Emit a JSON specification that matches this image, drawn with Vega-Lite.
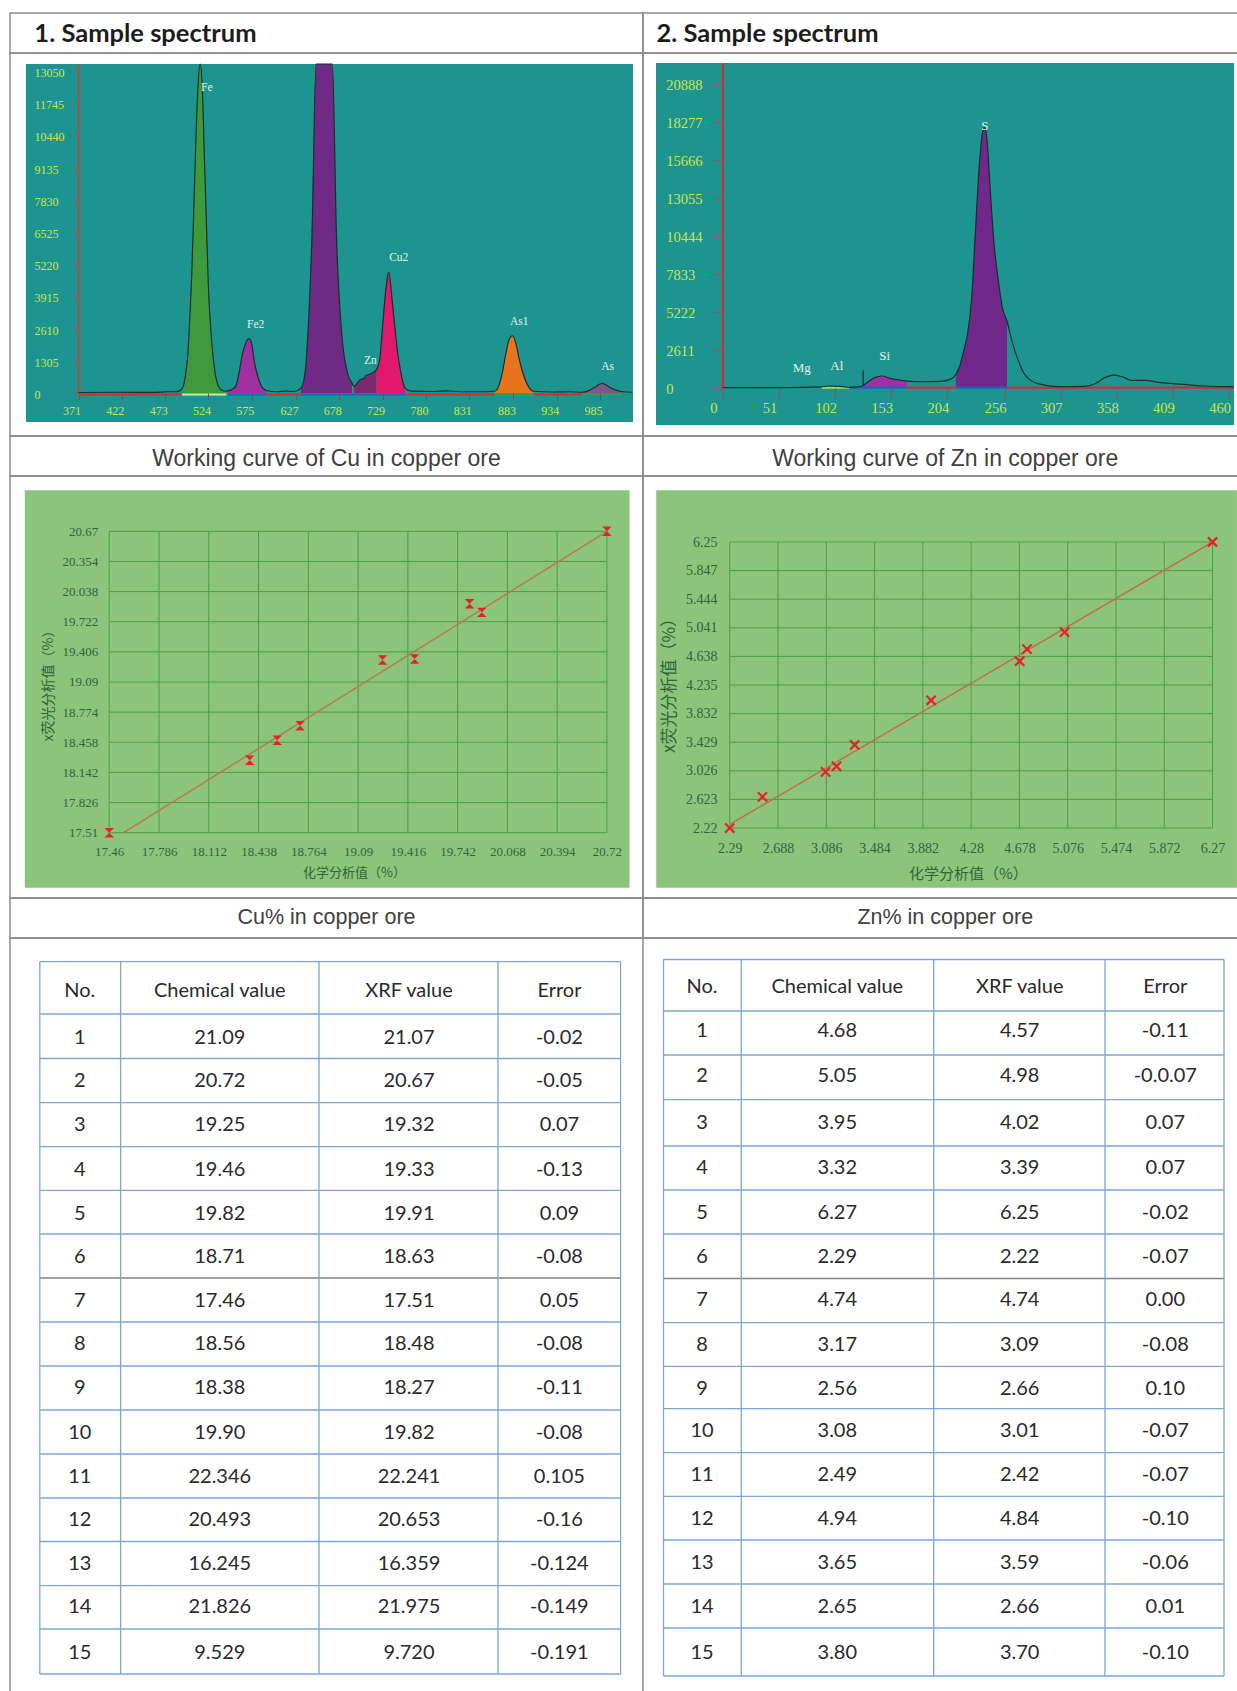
{
"$schema":"https://vega.github.io/schema/vega-lite/v6.json",
"background":"white",
"padding":{"left":9,"top":12,"right":0,"bottom":0},
"config":{"view":{"stroke":null},"axis":{"labelOverlap":false,"labelFlush":false,"labelBound":false,"grid":false,"domain":false}},
"datasets":{
"spec1":[
{"ch":371,"n":20},{"ch":420,"n":30},{"ch":460,"n":25},{"ch":475,"n":50},{"ch":486,"n":50},
{"ch":493.5,"n":200,"peak":"Fe"},{"ch":497,"n":740,"peak":"Fe"},{"ch":500,"n":1690,"peak":"Fe"},{"ch":502,"n":3040,"peak":"Fe"},{"ch":504.6,"n":5070,"peak":"Fe"},{"ch":507,"n":7770,"peak":"Fe"},{"ch":509.4,"n":10470,"peak":"Fe"},{"ch":511.8,"n":12500,"peak":"Fe"},{"ch":514.2,"n":13334,"peak":"Fe"},{"ch":516.6,"n":12500,"peak":"Fe"},{"ch":519,"n":9800,"peak":"Fe"},{"ch":521.4,"n":7100,"peak":"Fe"},{"ch":523.8,"n":4400,"peak":"Fe"},{"ch":527.2,"n":2360,"peak":"Fe"},{"ch":530.5,"n":1150,"peak":"Fe"},{"ch":534.4,"n":400,"peak":"Fe"},{"ch":539,"n":135,"peak":"Fe"},{"ch":545,"n":70,"peak":"Fe"},
{"ch":546.4,"n":90,"peak":"Fe2"},{"ch":551,"n":135,"peak":"Fe2"},{"ch":556,"n":270,"peak":"Fe2"},{"ch":560,"n":810,"peak":"Fe2"},{"ch":563,"n":1400,"peak":"Fe2"},{"ch":568,"n":2030,"peak":"Fe2"},{"ch":571.4,"n":2200,"peak":"Fe2"},{"ch":574.7,"n":2030,"peak":"Fe2"},{"ch":577.6,"n":1350,"peak":"Fe2"},{"ch":581.5,"n":740,"peak":"Fe2"},{"ch":586,"n":300,"peak":"Fe2"},{"ch":592,"n":100,"peak":"Fe2"},
{"ch":605,"n":50},{"ch":615,"n":80},{"ch":625,"n":60},
{"ch":632.9,"n":200,"peak":"Cu"},{"ch":637.7,"n":810,"peak":"Cu"},{"ch":641,"n":2360,"peak":"Cu"},{"ch":645.9,"n":6400,"peak":"Cu"},{"ch":650.7,"n":13334,"peak":"Cu"},{"ch":660.3,"n":13334,"peak":"Cu"},{"ch":669.9,"n":13334,"peak":"Cu"},{"ch":674.7,"n":6400,"peak":"Cu"},{"ch":681,"n":2360,"peak":"Cu"},{"ch":687.2,"n":880,"peak":"Cu"},{"ch":693,"n":400,"peak":"Cu"},
{"ch":695.4,"n":270,"peak":"Zn"},{"ch":702.6,"n":540,"peak":"Zn"},{"ch":707.4,"n":600,"peak":"Zn"},{"ch":710,"n":716,"peak":"Zn"},{"ch":714.6,"n":770,"peak":"Zn"},{"ch":721.8,"n":950,"peak":"Zn"},
{"ch":721.8,"n":950,"peak":"Cu2"},{"ch":725.6,"n":1350,"peak":"Cu2"},{"ch":729,"n":2700,"peak":"Cu2"},{"ch":732.4,"n":4050,"peak":"Cu2"},{"ch":736.2,"n":4900,"peak":"Cu2"},{"ch":740,"n":3850,"peak":"Cu2"},{"ch":743.4,"n":2700,"peak":"Cu2"},{"ch":746.8,"n":1620,"peak":"Cu2"},{"ch":750.6,"n":810,"peak":"Cu2"},{"ch":755.4,"n":200,"peak":"Cu2"},
{"ch":762.6,"n":80},{"ch":790,"n":60},{"ch":805,"n":90},{"ch":820,"n":50},{"ch":850,"n":50},
{"ch":861,"n":70,"peak":"As1"},{"ch":865.9,"n":300,"peak":"As1"},{"ch":869.8,"n":800,"peak":"As1"},{"ch":873.6,"n":1490,"peak":"As1"},{"ch":877.9,"n":2160,"peak":"As1"},{"ch":881.8,"n":2320,"peak":"As1"},{"ch":886,"n":2000,"peak":"As1"},{"ch":890,"n":1350,"peak":"As1"},{"ch":894.8,"n":740,"peak":"As1"},{"ch":900.6,"n":270,"peak":"As1"},{"ch":906.8,"n":70,"peak":"As1"},
{"ch":930,"n":40},{"ch":950,"n":50},
{"ch":964.5,"n":30,"peak":"As"},{"ch":971.7,"n":95,"peak":"As"},{"ch":978.9,"n":230,"peak":"As"},{"ch":983.7,"n":340,"peak":"As"},{"ch":987.5,"n":390,"peak":"As"},{"ch":993.3,"n":300,"peak":"As"},{"ch":1000.5,"n":160,"peak":"As"},{"ch":1010,"n":60,"peak":"As"},
{"ch":1023.6,"n":30}
],
"spec2":[
{"ch":0,"n":0},{"ch":57.3,"n":0},{"ch":88.9,"n":50},{"ch":95.9,"n":115},{"ch":106.4,"n":90},{"ch":117,"n":25},{"ch":124,"n":70},
{"ch":127.5,"n":150,"peak":"Si"},{"ch":131,"n":345,"peak":"Si"},{"ch":138,"n":690,"peak":"Si"},{"ch":144.4,"n":805,"peak":"Si"},{"ch":152.1,"n":640,"peak":"Si"},{"ch":162.6,"n":505,"peak":"Si"},{"ch":167,"n":450,"peak":"Si"},
{"ch":169.7,"n":435},{"ch":183.7,"n":410},{"ch":197.8,"n":435},{"ch":206.5,"n":570},
{"ch":211.8,"n":915,"peak":"Main"},{"ch":215.3,"n":1490,"peak":"Main"},{"ch":218.8,"n":2520,"peak":"Main"},{"ch":222.3,"n":3660,"peak":"Main"},{"ch":225.9,"n":5950,"peak":"Main"},{"ch":229.4,"n":10530,"peak":"Main"},{"ch":232.9,"n":15110,"peak":"Main"},{"ch":235.7,"n":17400,"peak":"Main"},{"ch":237.8,"n":17910,"peak":"Main"},{"ch":239.9,"n":17170,"peak":"Main"},{"ch":242.7,"n":13970,"peak":"Main"},{"ch":246.2,"n":10080,"peak":"Main"},{"ch":250.4,"n":7330,"peak":"Main"},{"ch":254,"n":5500,"peak":"Main"},{"ch":258.2,"n":4580,"peak":"Main"},
{"ch":262.7,"n":3205},{"ch":268,"n":1950},{"ch":273.3,"n":1030},{"ch":278.5,"n":570},{"ch":289,"n":230},{"ch":306.6,"n":70},{"ch":327.7,"n":90},{"ch":338.2,"n":275},{"ch":347,"n":690},{"ch":355.1,"n":870},{"ch":362.8,"n":755},{"ch":371.6,"n":505},{"ch":383.9,"n":505},{"ch":398,"n":345},{"ch":419,"n":230},{"ch":436.6,"n":115},{"ch":464,"n":70}
],
"tableCu":[
{"no":0,"id":"No.","chem":"Chemical  value","xrf":"XRF value","err":"Error"},
{"no":1,"id":"1","chem":"21.09","xrf":"21.07","err":"-0.02"},
{"no":2,"id":"2","chem":"20.72","xrf":"20.67","err":"-0.05"},
{"no":3,"id":"3","chem":"19.25","xrf":"19.32","err":"0.07"},
{"no":4,"id":"4","chem":"19.46","xrf":"19.33","err":"-0.13"},
{"no":5,"id":"5","chem":"19.82","xrf":"19.91","err":"0.09"},
{"no":6,"id":"6","chem":"18.71","xrf":"18.63","err":"-0.08"},
{"no":7,"id":"7","chem":"17.46","xrf":"17.51","err":"0.05"},
{"no":8,"id":"8","chem":"18.56","xrf":"18.48","err":"-0.08"},
{"no":9,"id":"9","chem":"18.38","xrf":"18.27","err":"-0.11"},
{"no":10,"id":"10","chem":"19.90","xrf":"19.82","err":"-0.08"},
{"no":11,"id":"11","chem":"22.346","xrf":"22.241","err":"0.105"},
{"no":12,"id":"12","chem":"20.493","xrf":"20.653","err":"-0.16"},
{"no":13,"id":"13","chem":"16.245","xrf":"16.359","err":"-0.124"},
{"no":14,"id":"14","chem":"21.826","xrf":"21.975","err":"-0.149"},
{"no":15,"id":"15","chem":"9.529","xrf":"9.720","err":"-0.191"}
],
"tableZn":[
{"no":0,"id":"No.","chem":"Chemical  value","xrf":"XRF value","err":"Error"},
{"no":1,"id":"1","chem":"4.68","xrf":"4.57","err":"-0.11"},
{"no":2,"id":"2","chem":"5.05","xrf":"4.98","err":"-0.0.07"},
{"no":3,"id":"3","chem":"3.95","xrf":"4.02","err":"0.07"},
{"no":4,"id":"4","chem":"3.32","xrf":"3.39","err":"0.07"},
{"no":5,"id":"5","chem":"6.27","xrf":"6.25","err":"-0.02"},
{"no":6,"id":"6","chem":"2.29","xrf":"2.22","err":"-0.07"},
{"no":7,"id":"7","chem":"4.74","xrf":"4.74","err":"0.00"},
{"no":8,"id":"8","chem":"3.17","xrf":"3.09","err":"-0.08"},
{"no":9,"id":"9","chem":"2.56","xrf":"2.66","err":"0.10"},
{"no":10,"id":"10","chem":"3.08","xrf":"3.01","err":"-0.07"},
{"no":11,"id":"11","chem":"2.49","xrf":"2.42","err":"-0.07"},
{"no":12,"id":"12","chem":"4.94","xrf":"4.84","err":"-0.10"},
{"no":13,"id":"13","chem":"3.65","xrf":"3.59","err":"-0.06"},
{"no":14,"id":"14","chem":"2.65","xrf":"2.66","err":"0.01"},
{"no":15,"id":"15","chem":"3.80","xrf":"3.70","err":"-0.10"}
],
"rowEdges":[{"no":-0.5},{"no":0.5},{"no":1.5},{"no":2.5},{"no":3.5},{"no":4.5},{"no":5.5},{"no":7.5},{"no":8.5},{"no":9.5},{"no":10.5},{"no":11.5},{"no":12.5},{"no":13.5},{"no":14.5},{"no":15.5}],
"tableSpan":[{"no":-0.5,"no2":15.5}],
"frameSpan":[{"no":-2,"no2":16}]
},
"concat":[
{"width":633,"height":40,"view":{"stroke":"#8a8a8a","strokeWidth":1.5},"data":{"values":[{"label":"1. Sample spectrum"}]},"mark":{"type":"text","font":"Lato","fontWeight":"bold","fontSize":25.5,"align":"left","color":"#1c1c1c"},"encoding":{"text":{"field":"label"},"x":{"datum":0.0385,"type":"quantitative","scale":{"domain":[0,1]},"axis":null},"y":{"datum":0.475,"type":"quantitative","scale":{"domain":[0,1]},"axis":null}}},
{"width":595,"height":40,"view":{"stroke":"#8a8a8a","strokeWidth":1.5},"data":{"values":[{"label":"2. Sample spectrum"}]},"mark":{"type":"text","font":"Lato","fontWeight":"bold","fontSize":25.5,"align":"left","color":"#1c1c1c"},"encoding":{"text":{"field":"label"},"x":{"datum":0.0226,"type":"quantitative","scale":{"domain":[0,1]},"axis":null},"y":{"datum":0.475,"type":"quantitative","scale":{"domain":[0,1]},"axis":null}}},
{"width":633,"height":383,"view":{"stroke":"#8a8a8a","strokeWidth":1.5},
"encoding":{
"x":{"field":"ch","type":"quantitative","scale":{"domain":[290.35,1035.6],"nice":false,"zero":false},"axis":{"zindex":1,"title":null,"offset":-43,"values":[371,422,473,524,575,627,678,729,780,831,883,934,985],"format":"d","tickColor":"#9a3a6a","tickSize":6.5,"labelPadding":10.5,"labelBaseline":"middle","labelOffset":-7,"labelColor":"#c8e64e","labelFont":"Liberation Serif","labelFontSize":12,"labelAngle":0}},
"y":{"field":"n","type":"quantitative","scale":{"domain":[-1742.7,13779.7],"nice":false,"zero":false},"axis":{"zindex":1,"title":null,"offset":-68.5,"values":[0,1305,2610,3915,5220,6525,7830,9135,10440,11745,13050],"format":"d","tickColor":"#b04a50","tickSize":5,"labelAlign":"left","labelPadding":39.5,"labelOffset":1.5,"labelColor":"#c8e64e","labelFont":"Liberation Serif","labelFontSize":12}}},
"layer":[
{"data":{"values":[{"ch":309.2,"ch2":1023.8,"n":13334,"n2":-1175}]},"mark":{"type":"rect","color":"#1e9490"},"encoding":{"x2":{"field":"ch2"},"y2":{"field":"n2"}}},
{"data":{"name":"spec1"},"transform":[{"filter":"datum.peak != null"}],"mark":{"type":"area","interpolate":"monotone"},"encoding":{"y":{"field":"n","type":"quantitative","stack":null},"y2":{"datum":0},"color":{"field":"peak","type":"nominal","legend":null,"scale":{"domain":["Fe","Fe2","Cu","Zn","Cu2","As1","As","red line","blue line","green line","pale line"],"range":["#3f9a3c","#a0309f","#6f2a86","#7b2c6e","#e0186e","#e8731e","#7a5a8a","#c8342c","#2060c0","#3a9a50","#cfeea0"]}}}},
{"data":{"values":[{"ch":371,"ch2":493,"n":-60,"band":"red line"},{"ch":493,"ch2":545,"n":-60,"band":"pale line"},{"ch":547,"ch2":592,"n":-60,"band":"blue line"},{"ch":592,"ch2":632,"n":-60,"band":"red line"},{"ch":632,"ch2":756,"n":-60,"band":"blue line"},{"ch":756,"ch2":861,"n":-60,"band":"red line"},{"ch":861,"ch2":907,"n":-60,"band":"green line"},{"ch":907,"ch2":964,"n":-60,"band":"red line"},{"ch":964,"ch2":1012,"n":-60,"band":"green line"}]},"mark":{"type":"rule","strokeWidth":2},"encoding":{"x2":{"field":"ch2"},"color":{"field":"band","type":"nominal","legend":null,"scale":{"domain":["Fe","Fe2","Cu","Zn","Cu2","As1","As","red line","blue line","green line","pale line"],"range":["#3f9a3c","#a0309f","#6f2a86","#7b2c6e","#e0186e","#e8731e","#7a5a8a","#c8342c","#2060c0","#3a9a50","#cfeea0"]}}}},
{"data":{"values":[{"ch":371,"n":0,"n2":13334}]},"mark":{"type":"rule","color":"#d4382f","strokeWidth":1.5},"encoding":{"y2":{"field":"n2"}}},
{"data":{"name":"spec1"},"mark":{"type":"line","color":"#15302c","strokeWidth":1.2,"interpolate":"monotone"}},
{"data":{"values":[{"label":"Fe","ch":522,"n":12360},{"label":"Fe2","ch":579.6,"n":2770},{"label":"Cu2","ch":748,"n":5470},{"label":"Zn","ch":714.6,"n":1280},{"label":"As1","ch":890,"n":2860},{"label":"As","ch":994,"n":1040}]},"mark":{"type":"text","font":"Liberation Serif","fontSize":11.5,"color":"#e6f2e6"},"encoding":{"text":{"field":"label"}}}
]},
{"width":595,"height":383,"view":{"stroke":"#8a8a8a","strokeWidth":1.5},
"encoding":{
"x":{"field":"ch","type":"quantitative","scale":{"domain":[-72.5,468.1],"nice":false,"zero":false},"axis":{"zindex":1,"title":null,"offset":-48.3,"values":[0,51,102,153,204,256,307,358,409,460],"format":"d","tickColor":"#9a4a5a","tickSize":10,"labelPadding":11,"labelBaseline":"middle","labelOffset":-9.5,"labelColor":"#c8e64e","labelFont":"Liberation Serif","labelFontSize":14.5,"labelAngle":0}},
"y":{"field":"n","type":"quantitative","scale":{"domain":[-3319,22997],"nice":false,"zero":false},"axis":{"zindex":1,"title":null,"offset":-79.8,"values":[0,2611,5222,7833,10444,13055,15666,18277,20888],"format":"d","tickColor":"#8a5a5a","tickSize":9,"labelAlign":"left","labelPadding":48,"labelOffset":2,"labelColor":"#c8e64e","labelFont":"Liberation Serif","labelFontSize":14.5}}},
"layer":[
{"data":{"values":[{"ch":-60.7,"ch2":464.5,"n":22310,"n2":-2563}]},"mark":{"type":"rect","color":"#1e9490"},"encoding":{"x2":{"field":"ch2"},"y2":{"field":"n2"}}},
{"data":{"name":"spec2"},"transform":[{"filter":"datum.peak != null"}],"mark":{"type":"area","interpolate":"monotone"},"encoding":{"y":{"field":"n","type":"quantitative","stack":null},"y2":{"datum":0},"color":{"field":"peak","type":"nominal","legend":null,"scale":{"domain":["Si","Main","red line","blue line","green line"],"range":["#a030a8","#70288a","#d4283a","#2060c0","#a8d850"]}}}},
{"data":{"values":[{"ch":90,"ch2":115,"n":0,"band":"green line"},{"ch":115,"ch2":167,"n":0,"band":"blue line"},{"ch":167,"ch2":212,"n":0,"band":"red line"},{"ch":212,"ch2":258.2,"n":0,"band":"blue line"},{"ch":258.2,"ch2":464.5,"n":0,"band":"red line"}]},"mark":{"type":"rule","strokeWidth":2.2},"encoding":{"x2":{"field":"ch2"},"color":{"field":"band","type":"nominal","legend":null,"scale":{"domain":["Si","Main","red line","blue line","green line"],"range":["#a030a8","#70288a","#d4283a","#2060c0","#a8d850"]}}}},
{"data":{"values":[{"ch":0,"n":0,"n2":22310}]},"mark":{"type":"rule","color":"#d9262e","strokeWidth":2},"encoding":{"y2":{"field":"n2"}}},
{"data":{"values":[{"ch":127.5,"n":115,"n2":1190}]},"mark":{"type":"rule","color":"#101818","strokeWidth":1},"encoding":{"y2":{"field":"n2"}}},
{"data":{"name":"spec2"},"mark":{"type":"line","color":"#15302c","strokeWidth":1.2,"interpolate":"monotone"}},
{"data":{"values":[{"label":"Mg","ch":71.7,"n":1374},{"label":"Al","ch":103.6,"n":1490},{"label":"Si","ch":147,"n":2150},{"label":"S","ch":238,"n":17980}]},"mark":{"type":"text","font":"Liberation Serif","fontSize":13,"color":"#e6f2e6"},"encoding":{"text":{"field":"label"}}}
]},
{"width":633,"height":40,"view":{"stroke":"#8a8a8a","strokeWidth":1.5},"data":{"values":[{"label":"Working curve of Cu in copper ore"}]},"mark":{"type":"text","font":"Liberation Sans","fontSize":23,"color":"#404040"},"encoding":{"text":{"field":"label"},"x":{"datum":0.5,"type":"quantitative","scale":{"domain":[0,1]},"axis":null},"y":{"datum":0.425,"type":"quantitative","scale":{"domain":[0,1]},"axis":null}}},
{"width":595,"height":40,"view":{"stroke":"#8a8a8a","strokeWidth":1.5},"data":{"values":[{"label":"Working curve of Zn in copper ore"}]},"mark":{"type":"text","font":"Liberation Sans","fontSize":23,"color":"#404040"},"encoding":{"text":{"field":"label"},"x":{"datum":0.508,"type":"quantitative","scale":{"domain":[0,1]},"axis":null},"y":{"datum":0.425,"type":"quantitative","scale":{"domain":[0,1]},"axis":null}}},
{"width":633,"height":422,"view":{"stroke":"#8a8a8a","strokeWidth":1.5},
"encoding":{
"x":{"field":"chem","type":"quantitative","scale":{"domain":[16.81,20.956],"nice":false,"zero":false},"axis":{"zindex":1,"title":"化学分析值（%）","titleFont":"Noto Sans CJK SC","titleFontSize":13,"titleFontWeight":"normal","titleColor":"#2f6637","titleX":344,"titleY":40,"titleBaseline":"middle","offset":-65.3,"ticks":false,"values":[17.46,17.786,18.112,18.438,18.764,19.09,19.416,19.742,20.068,20.394,20.72],"format":".5~g","labelPadding":18.3,"labelBaseline":"middle","labelColor":"#2f6637","labelFont":"Liberation Serif","labelFontSize":13,"labelAngle":0}},
"y":{"field":"xrf","type":"quantitative","scale":{"domain":[16.825,21.25],"nice":false,"zero":false},"axis":{"zindex":1,"title":"x荧光分析值（%）","titleFont":"Noto Sans CJK SC","titleFontSize":14,"titleFontWeight":"normal","titleColor":"#2f6637","titleX":-60.2,"titleY":206,"titleBaseline":"middle","offset":-99.2,"ticks":false,"values":[17.51,17.826,18.142,18.458,18.774,19.09,19.406,19.722,20.038,20.354,20.67],"format":".5~g","labelPadding":11.5,"labelColor":"#2f6637","labelFont":"Liberation Serif","labelFontSize":13}}},
"layer":[
{"data":{"values":[{"chem":16.907,"chem2":20.868,"xrf":21.1,"xrf2":16.933}]},"mark":{"type":"rect","color":"#8cc47c"},"encoding":{"x2":{"field":"chem2"},"y2":{"field":"xrf2"}}},
{"data":{"values":[{"chem":17.46,"xrf":17.51,"xrf2":20.67},{"chem":17.786,"xrf":17.51,"xrf2":20.67},{"chem":18.112,"xrf":17.51,"xrf2":20.67},{"chem":18.438,"xrf":17.51,"xrf2":20.67},{"chem":18.764,"xrf":17.51,"xrf2":20.67},{"chem":19.09,"xrf":17.51,"xrf2":20.67},{"chem":19.416,"xrf":17.51,"xrf2":20.67},{"chem":19.742,"xrf":17.51,"xrf2":20.67},{"chem":20.068,"xrf":17.51,"xrf2":20.67},{"chem":20.394,"xrf":17.51,"xrf2":20.67},{"chem":20.72,"xrf":17.51,"xrf2":20.67}]},"mark":{"type":"rule","color":"#4c9c48","strokeWidth":1},"encoding":{"y2":{"field":"xrf2"}}},
{"data":{"values":[{"chem":17.46,"chem2":20.72,"xrf":17.51},{"chem":17.46,"chem2":20.72,"xrf":17.826},{"chem":17.46,"chem2":20.72,"xrf":18.142},{"chem":17.46,"chem2":20.72,"xrf":18.458},{"chem":17.46,"chem2":20.72,"xrf":18.774},{"chem":17.46,"chem2":20.72,"xrf":19.09},{"chem":17.46,"chem2":20.72,"xrf":19.406},{"chem":17.46,"chem2":20.72,"xrf":19.722},{"chem":17.46,"chem2":20.72,"xrf":20.038},{"chem":17.46,"chem2":20.72,"xrf":20.354},{"chem":17.46,"chem2":20.72,"xrf":20.67}]},"mark":{"type":"rule","color":"#4c9c48","strokeWidth":1},"encoding":{"x2":{"field":"chem2"}}},
{"data":{"values":[{"chem":17.554,"xrf":17.51},{"chem":20.72,"xrf":20.67}]},"mark":{"type":"line","color":"#b87a4e","strokeWidth":1.5}},
{"data":{"values":[{"chem":17.46,"xrf":17.51},{"chem":18.38,"xrf":18.27},{"chem":18.56,"xrf":18.48},{"chem":18.71,"xrf":18.63},{"chem":19.25,"xrf":19.32},{"chem":19.46,"xrf":19.33},{"chem":19.82,"xrf":19.91},{"chem":19.9,"xrf":19.82},{"chem":20.72,"xrf":20.67}]},"mark":{"type":"point","shape":"M-1,-1L1,-1L-1,1L1,1Z","size":90,"filled":true,"color":"#e8202a","opacity":1}}
]},
{"width":595,"height":422,"view":{"stroke":"#8a8a8a","strokeWidth":1.5},
"encoding":{
"x":{"field":"chem","type":"quantitative","scale":{"domain":[1.575,6.48],"nice":false,"zero":false},"axis":{"zindex":1,"title":"化学分析值（%）","titleFont":"Noto Sans CJK SC","titleFontSize":15,"titleFontWeight":"normal","titleColor":"#2f6637","titleX":324.8,"titleY":45,"titleBaseline":"middle","offset":-70,"ticks":false,"values":[2.29,2.688,3.086,3.484,3.882,4.28,4.678,5.076,5.474,5.872,6.27],"format":".5~g","labelPadding":20,"labelBaseline":"middle","labelColor":"#2f6637","labelFont":"Liberation Serif","labelFontSize":14,"labelAngle":0}},
"y":{"field":"xrf","type":"quantitative","scale":{"domain":[1.234,7.18],"nice":false,"zero":false},"axis":{"zindex":1,"title":"x荧光分析值（%）","titleFont":"Noto Sans CJK SC","titleFontSize":17,"titleFontWeight":"normal","titleColor":"#2f6637","titleX":-60,"titleY":205,"titleBaseline":"middle","offset":-86.7,"ticks":false,"values":[2.22,2.623,3.026,3.429,3.832,4.235,4.638,5.041,5.444,5.847,6.25],"format":".5~g","labelPadding":12.7,"labelColor":"#2f6637","labelFont":"Liberation Serif","labelFontSize":14}}},
"layer":[
{"data":{"values":[{"chem":1.684,"chem2":6.471,"xrf":6.978,"xrf2":1.379}]},"mark":{"type":"rect","color":"#8cc47c"},"encoding":{"x2":{"field":"chem2"},"y2":{"field":"xrf2"}}},
{"data":{"values":[{"chem":2.29,"xrf":2.22,"xrf2":6.25},{"chem":2.688,"xrf":2.22,"xrf2":6.25},{"chem":3.086,"xrf":2.22,"xrf2":6.25},{"chem":3.484,"xrf":2.22,"xrf2":6.25},{"chem":3.882,"xrf":2.22,"xrf2":6.25},{"chem":4.28,"xrf":2.22,"xrf2":6.25},{"chem":4.678,"xrf":2.22,"xrf2":6.25},{"chem":5.076,"xrf":2.22,"xrf2":6.25},{"chem":5.474,"xrf":2.22,"xrf2":6.25},{"chem":5.872,"xrf":2.22,"xrf2":6.25},{"chem":6.27,"xrf":2.22,"xrf2":6.25}]},"mark":{"type":"rule","color":"#4c9c48","strokeWidth":1},"encoding":{"y2":{"field":"xrf2"}}},
{"data":{"values":[{"chem":2.29,"chem2":6.27,"xrf":2.22},{"chem":2.29,"chem2":6.27,"xrf":2.623},{"chem":2.29,"chem2":6.27,"xrf":3.026},{"chem":2.29,"chem2":6.27,"xrf":3.429},{"chem":2.29,"chem2":6.27,"xrf":3.832},{"chem":2.29,"chem2":6.27,"xrf":4.235},{"chem":2.29,"chem2":6.27,"xrf":4.638},{"chem":2.29,"chem2":6.27,"xrf":5.041},{"chem":2.29,"chem2":6.27,"xrf":5.444},{"chem":2.29,"chem2":6.27,"xrf":5.847},{"chem":2.29,"chem2":6.27,"xrf":6.25}]},"mark":{"type":"rule","color":"#4c9c48","strokeWidth":1},"encoding":{"x2":{"field":"chem2"}}},
{"data":{"values":[{"chem":2.29,"xrf":2.27},{"chem":6.27,"xrf":6.25}]},"mark":{"type":"line","color":"#c0704a","strokeWidth":1.5}},
{"data":{"values":[{"chem":2.29,"xrf":2.22},{"chem":2.56,"xrf":2.66},{"chem":3.08,"xrf":3.01},{"chem":3.17,"xrf":3.09},{"chem":3.32,"xrf":3.39},{"chem":3.95,"xrf":4.02},{"chem":4.68,"xrf":4.57},{"chem":4.74,"xrf":4.74},{"chem":5.05,"xrf":4.98},{"chem":6.27,"xrf":6.25}]},"mark":{"type":"point","shape":"M-1,-1L1,1M-1,1L1,-1","size":85,"filled":false,"color":"#e8202a","strokeWidth":2.2,"opacity":1}}
]},
{"width":633,"height":40,"view":{"stroke":"#8a8a8a","strokeWidth":1.5},"data":{"values":[{"label":"Cu% in copper ore"}]},"mark":{"type":"text","font":"Liberation Sans","fontSize":21.5,"color":"#404040"},"encoding":{"text":{"field":"label"},"x":{"datum":0.5,"type":"quantitative","scale":{"domain":[0,1]},"axis":null},"y":{"datum":0.5075,"type":"quantitative","scale":{"domain":[0,1]},"axis":null}}},
{"width":595,"height":40,"view":{"stroke":"#8a8a8a","strokeWidth":1.5},"data":{"values":[{"label":"Zn% in copper ore"}]},"mark":{"type":"text","font":"Liberation Sans","fontSize":21.5,"color":"#404040"},"encoding":{"text":{"field":"label"},"x":{"datum":0.508,"type":"quantitative","scale":{"domain":[0,1]},"axis":null},"y":{"datum":0.5075,"type":"quantitative","scale":{"domain":[0,1]},"axis":null}}},
{"width":633,"height":754,
"encoding":{"y":{"field":"no","type":"quantitative","axis":null,"scale":{"nice":false,"zero":false,"domain":[-2,-0.5,0,0.5,1,1.5,2,2.5,3,3.5,4,4.5,5,5.5,6,6.5,7,7.5,8,8.5,9,9.5,10,10.5,11,11.5,12,12.5,13,13.5,14,14.5,15,15.5,16],"range":[0,23.7,53,76,99.7,120.5,143,164.7,187.3,208.7,231.7,252.3,275.7,296,319,340,363,384,406,428,450.4,472,494.6,516,538.8,560,582,603.5,626,647.7,669,691,714.5,736,754]}}},
"layer":[
{"data":{"name":"frameSpan"},"mark":{"type":"rule","color":"#8a8a8a","strokeWidth":1.5},"encoding":{"x":{"datum":0,"type":"quantitative","scale":{"domain":[0,633]},"axis":null},"y2":{"field":"no2"}}},
{"data":{"name":"frameSpan"},"mark":{"type":"rule","color":"#8a8a8a","strokeWidth":1.5},"encoding":{"x":{"datum":0,"type":"quantitative","scale":{"domain":[0,633]},"axis":null},"x2":{"datum":633}}},
{"data":{"name":"rowEdges"},"mark":{"type":"rule","color":"#7ba6d6","strokeWidth":1.3},"encoding":{"x":{"datum":29.8,"type":"quantitative","scale":{"domain":[0,633]},"axis":null},"x2":{"datum":610.6}}},
{"data":{"values":[{"no":6.5}]},"mark":{"type":"rule","color":"#7f8288","strokeWidth":1.5},"encoding":{"x":{"datum":29.8,"type":"quantitative","scale":{"domain":[0,633]},"axis":null},"x2":{"datum":610.6}}},
{"data":{"name":"tableSpan"},"mark":{"type":"rule","color":"#7ba6d6","strokeWidth":1.3},"encoding":{"x":{"datum":29.8,"type":"quantitative","scale":{"domain":[0,633]},"axis":null},"y2":{"field":"no2"}}},
{"data":{"name":"tableSpan"},"mark":{"type":"rule","color":"#7ba6d6","strokeWidth":1.3},"encoding":{"x":{"datum":110.6,"type":"quantitative","scale":{"domain":[0,633]},"axis":null},"y2":{"field":"no2"}}},
{"data":{"name":"tableSpan"},"mark":{"type":"rule","color":"#7ba6d6","strokeWidth":1.3},"encoding":{"x":{"datum":309,"type":"quantitative","scale":{"domain":[0,633]},"axis":null},"y2":{"field":"no2"}}},
{"data":{"name":"tableSpan"},"mark":{"type":"rule","color":"#7ba6d6","strokeWidth":1.3},"encoding":{"x":{"datum":488,"type":"quantitative","scale":{"domain":[0,633]},"axis":null},"y2":{"field":"no2"}}},
{"data":{"name":"tableSpan"},"mark":{"type":"rule","color":"#7ba6d6","strokeWidth":1.3},"encoding":{"x":{"datum":610.6,"type":"quantitative","scale":{"domain":[0,633]},"axis":null},"y2":{"field":"no2"}}},
{"data":{"name":"tableCu"},"mark":{"type":"text","font":"Lato","fontSize":20,"color":"#2a2a2a"},"encoding":{"x":{"datum":69.8,"type":"quantitative","scale":{"domain":[0,633]},"axis":null},"text":{"field":"id"}}},
{"data":{"name":"tableCu"},"mark":{"type":"text","font":"Lato","fontSize":20,"color":"#2a2a2a"},"encoding":{"x":{"datum":209.8,"type":"quantitative","scale":{"domain":[0,633]},"axis":null},"text":{"field":"chem"}}},
{"data":{"name":"tableCu"},"mark":{"type":"text","font":"Lato","fontSize":20,"color":"#2a2a2a"},"encoding":{"x":{"datum":399,"type":"quantitative","scale":{"domain":[0,633]},"axis":null},"text":{"field":"xrf"}}},
{"data":{"name":"tableCu"},"mark":{"type":"text","font":"Lato","fontSize":20,"color":"#2a2a2a"},"encoding":{"x":{"datum":549.4,"type":"quantitative","scale":{"domain":[0,633]},"axis":null},"text":{"field":"err"}}}
]},
{"width":595,"height":754,
"encoding":{"y":{"field":"no","type":"quantitative","axis":null,"scale":{"nice":false,"zero":false,"domain":[-2,-0.5,0,0.5,1,1.5,2,2.5,3,3.5,4,4.5,5,5.5,6,6.5,7,7.5,8,8.5,9,9.5,10,10.5,11,11.5,12,12.5,13,13.5,14,14.5,15,15.5,16],"range":[0,21.5,49,73,93,117,138,161.6,185,208,230,252,275,296,319,340.6,362,384.7,407.3,428.3,450.7,470.7,493,514.7,537,558.3,581,602,625,646,668.7,690,715,738,754]}}},
"layer":[
{"data":{"name":"frameSpan"},"mark":{"type":"rule","color":"#8a8a8a","strokeWidth":1.5},"encoding":{"x":{"datum":0,"type":"quantitative","scale":{"domain":[0,595]},"axis":null},"y2":{"field":"no2"}}},
{"data":{"name":"frameSpan"},"mark":{"type":"rule","color":"#8a8a8a","strokeWidth":1.5},"encoding":{"x":{"datum":0,"type":"quantitative","scale":{"domain":[0,595]},"axis":null},"x2":{"datum":595}}},
{"data":{"name":"rowEdges"},"mark":{"type":"rule","color":"#7ba6d6","strokeWidth":1.3},"encoding":{"x":{"datum":20.5,"type":"quantitative","scale":{"domain":[0,595]},"axis":null},"x2":{"datum":581}}},
{"data":{"values":[{"no":6.5}]},"mark":{"type":"rule","color":"#7f8288","strokeWidth":1.5},"encoding":{"x":{"datum":20.5,"type":"quantitative","scale":{"domain":[0,595]},"axis":null},"x2":{"datum":581}}},
{"data":{"name":"tableSpan"},"mark":{"type":"rule","color":"#7ba6d6","strokeWidth":1.3},"encoding":{"x":{"datum":20.5,"type":"quantitative","scale":{"domain":[0,595]},"axis":null},"y2":{"field":"no2"}}},
{"data":{"name":"tableSpan"},"mark":{"type":"rule","color":"#7ba6d6","strokeWidth":1.3},"encoding":{"x":{"datum":98.3,"type":"quantitative","scale":{"domain":[0,595]},"axis":null},"y2":{"field":"no2"}}},
{"data":{"name":"tableSpan"},"mark":{"type":"rule","color":"#7ba6d6","strokeWidth":1.3},"encoding":{"x":{"datum":290.7,"type":"quantitative","scale":{"domain":[0,595]},"axis":null},"y2":{"field":"no2"}}},
{"data":{"name":"tableSpan"},"mark":{"type":"rule","color":"#7ba6d6","strokeWidth":1.3},"encoding":{"x":{"datum":462,"type":"quantitative","scale":{"domain":[0,595]},"axis":null},"y2":{"field":"no2"}}},
{"data":{"name":"tableSpan"},"mark":{"type":"rule","color":"#7ba6d6","strokeWidth":1.3},"encoding":{"x":{"datum":581,"type":"quantitative","scale":{"domain":[0,595]},"axis":null},"y2":{"field":"no2"}}},
{"data":{"name":"tableZn"},"mark":{"type":"text","font":"Lato","fontSize":20,"color":"#2a2a2a"},"encoding":{"x":{"datum":59,"type":"quantitative","scale":{"domain":[0,595]},"axis":null},"text":{"field":"id"}}},
{"data":{"name":"tableZn"},"mark":{"type":"text","font":"Lato","fontSize":20,"color":"#2a2a2a"},"encoding":{"x":{"datum":194.3,"type":"quantitative","scale":{"domain":[0,595]},"axis":null},"text":{"field":"chem"}}},
{"data":{"name":"tableZn"},"mark":{"type":"text","font":"Lato","fontSize":20,"color":"#2a2a2a"},"encoding":{"x":{"datum":376.7,"type":"quantitative","scale":{"domain":[0,595]},"axis":null},"text":{"field":"xrf"}}},
{"data":{"name":"tableZn"},"mark":{"type":"text","font":"Lato","fontSize":20,"color":"#2a2a2a"},"encoding":{"x":{"datum":522.3,"type":"quantitative","scale":{"domain":[0,595]},"axis":null},"text":{"field":"err"}}}
]}
],
"columns":2,
"spacing":0,
"bounds":"flush",
"align":"each",
"resolve":{"scale":{"color":"independent"}}
}
